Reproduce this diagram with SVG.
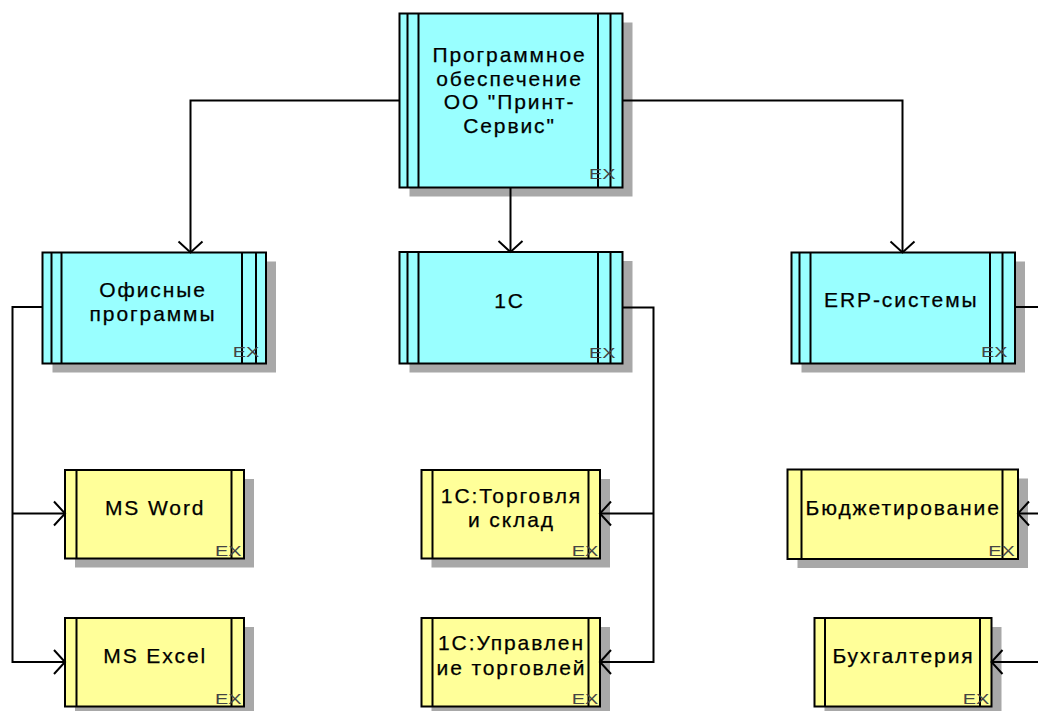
<svg xmlns="http://www.w3.org/2000/svg" width="1038" height="711" viewBox="0 0 1038 711">
<defs>
<style>
.sh{fill:#a8a8a8;stroke:none}
.cy{fill:#99ffff;stroke:#000;stroke-width:2}
.ye{fill:#ffff99;stroke:#000;stroke-width:2}
.ln{stroke:#000;stroke-width:2;fill:none}
.t{font-family:"Liberation Sans",Arial,sans-serif;font-size:21px;letter-spacing:1.9px;text-anchor:middle;fill:#000;stroke:#000;stroke-width:0.25px}
.ex{font-family:"Liberation Sans",Arial,sans-serif;font-size:14px;fill:#444}
.c{stroke:#000;stroke-width:2;fill:none}
</style>
<marker id="arr" markerUnits="userSpaceOnUse" markerWidth="30" markerHeight="30" viewBox="-15 -15 30 30" refX="0" refY="0" orient="auto" overflow="visible">
<path d="M-11,-12 L0,0 L-11,12" fill="none" stroke="#000" stroke-width="2"/>
</marker>
</defs>
<rect width="1038" height="711" fill="#fff"/>

<g id="node-root">
<rect class="sh" x="409.5" y="22.5" width="223" height="174"/>
<rect class="cy" x="399.5" y="13.5" width="223" height="174"/>
<path class="ln" d="M407.5,13.5V187.5M418.5,13.5V187.5M598,13.5V187.5M610.5,13.5V187.5"/>
<text class="t" x="509.5" y="62">Программное</text>
<text class="t" x="509.5" y="85.5">обеспечение</text>
<text class="t" x="509.5" y="109">ОО "Принт-</text>
<text class="t" x="509.5" y="132.5">Сервис"</text>
<text class="ex" x="589" y="179" textLength="26.5" lengthAdjust="spacingAndGlyphs">EX</text>
</g>

<g id="node-office">
<rect class="sh" x="52.5" y="261.5" width="223.5" height="111"/>
<rect class="cy" x="42.5" y="252.5" width="223.5" height="111"/>
<path class="ln" d="M51.5,252.5V363.5M61.5,252.5V363.5M242,252.5V363.5M256,252.5V363.5"/>
<text class="t" x="153" y="296.5">Офисные</text>
<text class="t" x="153" y="320.5">программы</text>
<text class="ex" x="232.7" y="357.3" textLength="26.5" lengthAdjust="spacingAndGlyphs">EX</text>
</g>

<g id="node-1c">
<rect class="sh" x="409.5" y="261" width="223" height="111.5"/>
<rect class="cy" x="399.5" y="252" width="223" height="111.5"/>
<path class="ln" d="M407.5,252V363.5M418.5,252V363.5M598,252V363.5M610.5,252V363.5"/>
<text class="t" x="509.5" y="308">1С</text>
<text class="ex" x="589" y="358" textLength="26.5" lengthAdjust="spacingAndGlyphs">EX</text>
</g>

<g id="node-erp">
<rect class="sh" x="801.5" y="261.5" width="223.5" height="111"/>
<rect class="cy" x="791.5" y="252.5" width="223.5" height="111"/>
<path class="ln" d="M799.5,252.5V363.5M810.5,252.5V363.5M990,252.5V363.5M1002.5,252.5V363.5"/>
<text class="t" x="901.3" y="307">ERP-системы</text>
<text class="ex" x="981" y="357.3" textLength="26.5" lengthAdjust="spacingAndGlyphs">EX</text>
</g>

<g id="node-msword">
<rect class="sh" x="75" y="479" width="179" height="88.5"/>
<rect class="ye" x="65" y="470" width="179" height="88.5"/>
<path class="ln" d="M76.5,470V558.5M231.5,470V558.5"/>
<text class="t" x="155.2" y="514.5">MS Word</text>
<text class="ex" x="215" y="555.5" textLength="26.5" lengthAdjust="spacingAndGlyphs">EX</text>
</g>

<g id="node-msexcel">
<rect class="sh" x="75" y="627" width="179" height="88.5"/>
<rect class="ye" x="65" y="618" width="179" height="88.5"/>
<path class="ln" d="M76.5,618V706.5M231.5,618V706.5"/>
<text class="t" x="155.2" y="663">MS Excel</text>
<text class="ex" x="215" y="704" textLength="26.5" lengthAdjust="spacingAndGlyphs">EX</text>
</g>

<g id="node-1c-trade">
<rect class="sh" x="431.5" y="479" width="178.5" height="88.5"/>
<rect class="ye" x="421.5" y="470" width="178.5" height="88.5"/>
<path class="ln" d="M432.5,470V558.5M588.5,470V558.5"/>
<text class="t" x="511.5" y="503">1С:Торговля</text>
<text class="t" x="511.5" y="527">и склад</text>
<text class="ex" x="571.7" y="555.5" textLength="26.5" lengthAdjust="spacingAndGlyphs">EX</text>
</g>

<g id="node-1c-manage">
<rect class="sh" x="431.5" y="627" width="178.5" height="88.5"/>
<rect class="ye" x="421.5" y="618" width="178.5" height="88.5"/>
<path class="ln" d="M432.5,618V706.5M588.5,618V706.5"/>
<text class="t" x="511.5" y="650">1С:Управлен</text>
<text class="t" x="511.5" y="674.5">ие торговлей</text>
<text class="ex" x="571.7" y="704" textLength="26.5" lengthAdjust="spacingAndGlyphs">EX</text>
</g>

<g id="node-budget">
<rect class="sh" x="797.5" y="478.5" width="230.5" height="89.5"/>
<rect class="ye" x="787.5" y="469.5" width="230.5" height="89.5"/>
<path class="ln" d="M801.5,469.5V559M1002.5,469.5V559"/>
<text class="t" x="903.2" y="514.5">Бюджетирование</text>
<text class="ex" x="988.3" y="555.5" textLength="26.5" lengthAdjust="spacingAndGlyphs">EX</text>
</g>

<g id="node-accounting">
<rect class="sh" x="824.5" y="627" width="177" height="88.5"/>
<rect class="ye" x="814.5" y="618" width="177" height="88.5"/>
<path class="ln" d="M825,618V706.5M980,618V706.5"/>
<text class="t" x="903.5" y="663">Бухгалтерия</text>
<text class="ex" x="962.7" y="704" textLength="26.5" lengthAdjust="spacingAndGlyphs">EX</text>
</g>

<g id="connectors">
<path class="c" d="M399.5,100.5 H190.5 V252.5" marker-end="url(#arr)"/>
<path class="c" d="M510.5,187.5 V252" marker-end="url(#arr)"/>
<path class="c" d="M622.5,100.5 H902.5 V252.5" marker-end="url(#arr)"/>
<path class="c" d="M42.5,307 H12.5 V662 H65" marker-end="url(#arr)"/>
<path class="c" d="M12.5,513.5 H65" marker-end="url(#arr)"/>
<path class="c" d="M622.5,307.5 H653.5 V662 H600" marker-end="url(#arr)"/>
<path class="c" d="M653.5,513.5 H600" marker-end="url(#arr)"/>
<path class="c" d="M1015,307 H1050 V662 H991.5" marker-end="url(#arr)"/>
<path class="c" d="M1050,513.5 H1018" marker-end="url(#arr)"/>
</g>
</svg>
